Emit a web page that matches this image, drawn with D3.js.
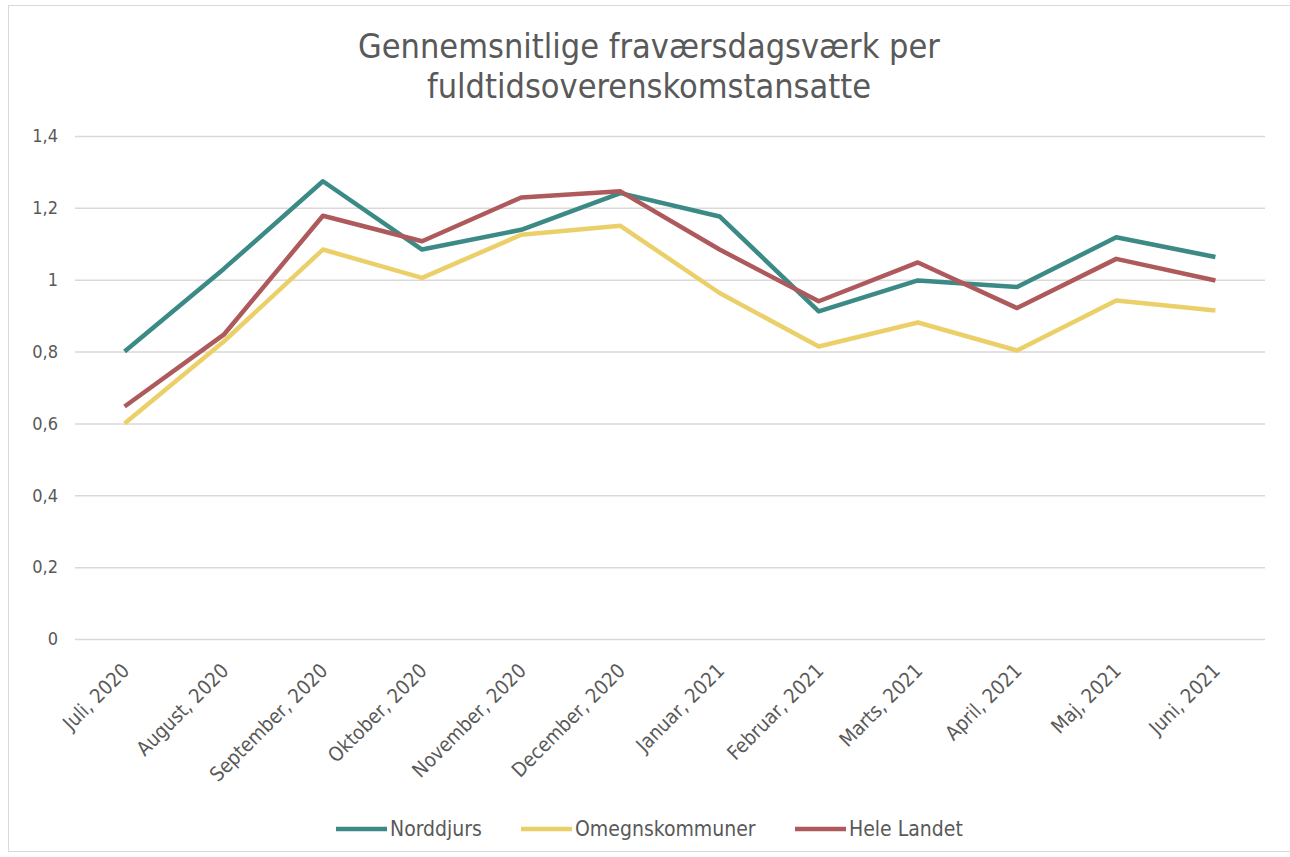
<!DOCTYPE html>
<html>
<head>
<meta charset="utf-8">
<script src="https://cdn.jsdelivr.net/npm/d3@7"></script>
<style>
  body { margin: 0; background: #fff; }
  text { font-family: "DejaVu Sans Condensed", "DejaVu Sans", sans-serif; fill: #595959; }
</style>
</head>
<body>
<div id="chart"></div>
<script>
// months on the x axis
var months = ["Juli, 2020", "August, 2020", "September, 2020", "Oktober, 2020", "November, 2020",
    "December, 2020", "Januar, 2021", "Februar, 2021", "Marts, 2021", "April, 2021", "Maj, 2021", "Juni, 2021"];

var seriesNames = ["Norddjurs", "Omegnskommuner", "Hele Landet"];
var seriesColors = ["#3b8a86", "#ebd06a", "#ae5a5d"];

var norddjurs = [0.80, 1.03, 1.274, 1.084, 1.139, 1.241, 1.176, 0.912, 0.998, 0.980, 1.118, 1.063];
var omegn = [0.60, 0.828, 1.084, 1.005, 1.125, 1.150, 0.963, 0.814, 0.881, 0.803, 0.942, 0.914];
var heleLandet = [0.647, 0.847, 1.178, 1.107, 1.229, 1.246, 1.084, 0.940, 1.048, 0.921, 1.058, 0.998];

var yTicks = [0, 0.2, 0.4, 0.6, 0.8, 1, 1.2, 1.4];

var allSeries = [norddjurs, omegn, heleLandet];

/************ PAGE SET-UP ***************/
var width = 1290, height = 857;
var margin = { left: 75, right: 25, top: 136, bottom: 218 };

var svg = d3.select("#chart").append("svg")
    .attr("width", width)
    .attr("height", height);

// light frame round the chart
svg.append("rect")
    .attr("x", 8.5).attr("y", 5.5)
    .attr("width", 1290).attr("height", 846)
    .attr("fill", "none")
    .attr("stroke", "#d9d9d9");

// title
var title = svg.append("text")
    .attr("text-anchor", "middle")
    .style("font-size", "34px");
title.append("tspan").attr("x", 649).attr("y", 58).text("Gennemsnitlige fraværsdagsværk per");
title.append("tspan").attr("x", 649).attr("y", 98).text("fuldtidsoverenskomstansatte");

var x = d3.scaleBand()
    .domain(months)
    .range([margin.left, width - margin.right]);

var y = d3.scaleLinear()
    .domain([0, 1.4])
    .range([height - margin.bottom, margin.top]);

var fmt = function (d) { return d3.format(".1f")(d).replace(".", ",").replace(/,0$/, ""); };

// gridlines + y labels
var yAxis = svg.append("g")
    .attr("transform", "translate(" + margin.left + ",0)")
    .call(d3.axisLeft(y).tickValues(yTicks).tickSize(-(width - margin.left - margin.right)).tickFormat(fmt));
yAxis.select(".domain").remove();
yAxis.selectAll("line").attr("stroke", "#d9d9d9").attr("stroke-width", 1.5);
yAxis.selectAll("text")
    .attr("x", -17)
    .style("font-size", "18px")
    .style("font-family", "DejaVu Sans Condensed");

// x labels, rotated
var xAxis = svg.append("g")
    .attr("transform", "translate(0," + (height - margin.bottom) + ")")
    .call(d3.axisBottom(x).tickSize(0));
xAxis.select(".domain").remove();
xAxis.selectAll("text")
    .style("font-size", "20px")
    .style("font-family", "DejaVu Sans Condensed")
    .attr("text-anchor", "end")
    .attr("dy", 0)
    .attr("y", 0)
    .attr("x", 0)
    .attr("transform", "translate(6,33) rotate(-45)");

// lines
var line = d3.line()
    .x(function (d, i) { return x(months[i]) + x.bandwidth() / 2; })
    .y(function (d) { return y(d); });

svg.selectAll(".series")
    .data(allSeries)
    .enter().append("path")
    .attr("class", "series")
    .attr("d", line)
    .attr("fill", "none")
    .attr("stroke", function (d, i) { return seriesColors[i]; })
    .attr("stroke-width", 4.5)
    .attr("stroke-linejoin", "round");

// legend
var legendX = [336, 521, 795];
var legend = svg.selectAll(".legend")
    .data(seriesNames)
    .enter().append("g")
    .attr("class", "legend")
    .attr("transform", function (d, i) { return "translate(" + legendX[i] + ",829)"; });

legend.append("line")
    .attr("x1", 0).attr("x2", 51)
    .attr("stroke", function (d, i) { return seriesColors[i]; })
    .attr("stroke-width", 4.5);

legend.append("text")
    .attr("x", 54)
    .attr("dy", "0.35em")
    .style("font-size", "21px")
    .text(function (d) { return d; });
</script>
</body>
</html>
